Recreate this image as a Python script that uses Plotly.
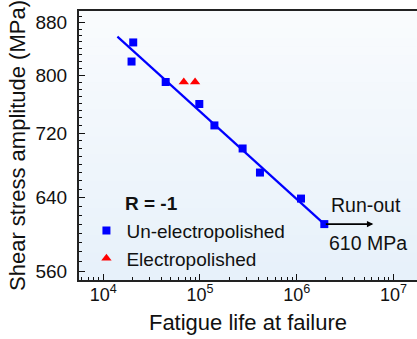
import numpy as np
import plotly.graph_objects as go

# ---- data ----
un_life = [2.04e4, 1.96e4, 4.42e4, 9.84e4, 1.41e5, 2.76e5, 4.17e5, 1.108e6, 1.93e6]
un_stress = [849, 820, 790, 759, 730, 700, 670, 639, 610]
ep_life = [6.8e4, 8.9e4]
ep_stress = [790, 790]
fit_life = [1.40e4, 1.93e6]
fit_stress = [858, 610]
runout_life = [1.93e6, 6.2e6]
runout_stress = 610

y_tickvals = [560, 640, 720, 800, 880]
y_minor = list(range(550, 901, 10))
x_tickvals = [1e4, 1e5, 1e6, 1e7]
x_ticktext = ["10<sup>4</sup>", "10<sup>5</sup>", "10<sup>6</sup>", "10<sup>7</sup>"]
x_minor = [m * 10 ** e for e in range(3, 8) for m in range(2, 10)]

FONT = "Liberation Sans, Arial, sans-serif"

fig = go.Figure()
fig.add_trace(go.Scatter(x=fit_life, y=fit_stress, mode="lines",
                         line=dict(color="#0000ff", width=2.2), showlegend=False))
fig.add_trace(go.Scatter(x=un_life, y=un_stress, mode="markers", name="Un-electropolished",
                         marker=dict(symbol="square", size=8, color="#0000ff")))
fig.add_trace(go.Scatter(x=ep_life, y=ep_stress, mode="markers", name="Electropolished",
                         marker=dict(symbol="triangle-up", size=9, color="#ff0000")))

# gradient background
n = 30
top = np.array([250, 252, 254])
bot = np.array([231, 241, 250])
for i in range(n):
    c = top + (bot - top) * (i + 0.5) / n
    fig.add_shape(type="rect", xref="x domain", yref="y domain",
                  x0=0, x1=1, y0=1 - (i + 1) / n, y1=1 - i / n + 0.001,
                  fillcolor="rgb(%d,%d,%d)" % tuple(c), line_width=0, layer="below")

# run-out arrow
fig.add_annotation(x=np.log10(runout_life[1]), y=np.log10(runout_stress),
                   ax=np.log10(runout_life[0]), ay=np.log10(runout_stress),
                   xref="x", yref="y", axref="x", ayref="y", text="",
                   showarrow=True, arrowhead=2, arrowsize=0.8, arrowwidth=1.6, arrowcolor="#000")
fig.add_annotation(x=0.848, y=0.279, xref="paper", yref="paper", text="Run-out",
                   xanchor="center", yanchor="middle",
                   showarrow=False, font=dict(size=19.5, color="#111", family=FONT))
fig.add_annotation(x=0.855, y=0.139, xref="paper", yref="paper", text="610 MPa",
                   xanchor="center", yanchor="middle",
                   showarrow=False, font=dict(size=19.5, color="#111", family=FONT))
fig.add_annotation(x=0.215, y=0.286, xref="paper", yref="paper", text="<b>R = -1</b>",
                   xanchor="center", yanchor="middle",
                   showarrow=False, font=dict(size=19, color="#111", family=FONT))

fig.update_layout(
    width=417, height=339,
    margin=dict(l=79, r=0, t=11, b=59),
    paper_bgcolor="white", plot_bgcolor="rgb(240,246,252)",
    font=dict(family=FONT, size=18, color="#111"),
    legend=dict(x=0.022, y=0.254, xanchor="left", yanchor="top",
                bgcolor="rgba(0,0,0,0)", font=dict(size=19),
                tracegroupgap=0),
    showlegend=True,
)
fig.update_xaxes(type="log", range=[3.749, 7.244],
                 tickvals=x_tickvals, ticktext=x_ticktext,
                 ticks="inside", ticklen=6, tickwidth=1.2, tickcolor="#111",
                 showline=True, linecolor="#222", linewidth=2, mirror=True,
                 showgrid=False, zeroline=False, ticklabelstandoff=-3,
                 minor=dict(tickvals=x_minor, ticks="inside", ticklen=3, tickcolor="#111", showgrid=False),
                 title=dict(text="Fatigue life at failure", standoff=11),
                 tickfont=dict(size=18))
fig.update_yaxes(type="log", range=[np.log10(551), np.log10(899)],
                 tickvals=y_tickvals, ticktext=[str(v) for v in y_tickvals],
                 ticks="inside", ticklen=6, tickwidth=1.2, tickcolor="#111",
                 showline=True, linecolor="#222", linewidth=2, mirror=False,
                 showgrid=False, zeroline=False, ticklabelstandoff=6,
                 minor=dict(tickvals=y_minor, ticks="inside", ticklen=3, tickcolor="#111", showgrid=False),
                 title=dict(text="Shear stress amplitude (MPa)", standoff=4),
                 tickfont=dict(size=19))

fig.write_html("out.html")
